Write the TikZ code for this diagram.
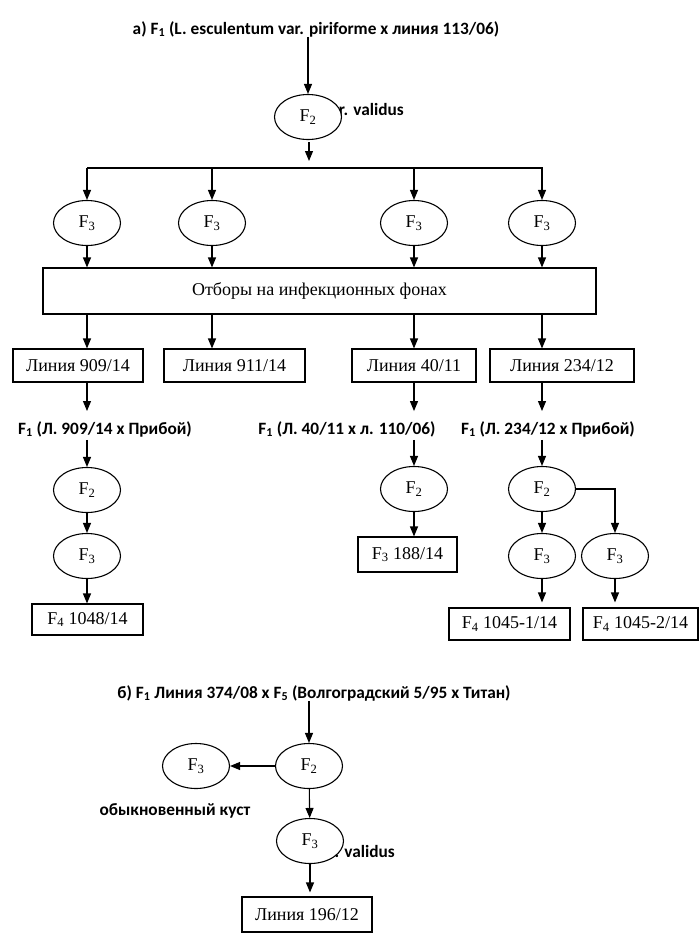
\documentclass[tikz,border=0pt]{standalone}
\usepackage{fontspec}
\setmainfont{Liberation Serif}
\newfontfamily\calib{Carlito}
\usetikzlibrary{arrows.meta,shapes.geometric}
\begin{document}
\begin{tikzpicture}[x=1pt,y=-1pt,
  every node/.style={inner sep=0pt},
  ell/.style={ellipse,draw,line width=1.1pt,fill=white,minimum width=67pt,minimum height=45pt,font=\fontsize{18}{21}\selectfont},
  box/.style={rectangle,draw,line width=1.1pt,fill=white,minimum height=33pt,font=\fontsize{18}{21}\selectfont},
  lab/.style={font=\calib\bfseries\fontsize{17.3}{20}\selectfont},
  arr/.style={line width=1.1pt,-{Triangle[length=10pt,width=8pt]}},
  ln/.style={line width=1.1pt}]
\useasboundingbox (0,0) rectangle (700,934);
% part a
\node[lab] (hA) at (316,29) {а) F\textsubscript{1} (L. esculentum var. piriforme x линия 113/06)};
\node[lab,anchor=east] (valA) at (404,109) {r. validus};
\node[ell] (f2a) at (308,117) {F\textsubscript{2}};
\draw[arr] (hA.south -| f2a) -- (f2a.north);
\coordinate (a1) at (309,142);
\coordinate (a2) at (309,161);
\draw[arr] (a1) -- (a2);
\coordinate (bl) at (87,168);
\coordinate (br) at (543,168);
\draw[ln] (bl) -- (br);
\node[ell] (f3a) at (87,223) {F\textsubscript{3}};
\node[ell] (f3b) at (212,223) {F\textsubscript{3}};
\node[ell] (f3c) at (414,223) {F\textsubscript{3}};
\node[ell] (f3d) at (542,223) {F\textsubscript{3}};
\foreach \n in {f3a,f3b,f3c,f3d}{\draw[arr] (bl -| \n) -- (\n.north);}
\node[box,minimum width=553pt,minimum height=46pt] (sel) at (319.5,291) {Отборы на инфекционных фонах};
\foreach \n in {f3a,f3b,f3c,f3d}{\draw[arr] (\n) -- (sel.north -| \n);}
\node[box,minimum width=130pt] (l909) at (78,365.5) {Линия 909/14};
\node[box,minimum width=141pt] (l911) at (234.5,365.5) {Линия 911/14};
\node[box,minimum width=124pt] (l40) at (414,365.5) {Линия 40/11};
\node[box,minimum width=144pt] (l234) at (562,365.5) {Линия 234/12};
\draw[arr] (sel.south -| f3a) -- (l909.north -| f3a);
\draw[arr] (sel.south -| f3b) -- (l911.north -| f3b);
\draw[arr] (sel.south -| f3c) -- (l40.north -| f3c);
\draw[arr] (sel.south -| f3d) -- (l234.north -| f3d);
\node[lab] (c909) at (105,429) {F\textsubscript{1} (Л. 909/14 x Прибой)};
\node[lab] (c40) at (347,429) {F\textsubscript{1} (Л. 40/11 x л. 110/06)};
\node[lab] (c234) at (548,429) {F\textsubscript{1} (Л. 234/12 x Прибой)};
\node[ell] (f2b) at (87,490) {F\textsubscript{2}};
\node[ell] (f2c) at (414,489) {F\textsubscript{2}};
\node[ell] (f2d) at (542,489) {F\textsubscript{2}};
\draw[arr,shorten >=10pt] (l909.south -| f2b) -- (c909.north -| f2b);
\draw[arr,shorten >=10pt] (l40.south -| f2c) -- (c40.north -| f2c);
\draw[arr,shorten >=10pt] (l234.south -| f2d) -- (c234.north -| f2d);
\draw[arr,shorten <=3pt] (c909.south -| f2b) -- (f2b);
\draw[arr,shorten <=3pt] (c40.south -| f2c) -- (f2c);
\draw[arr,shorten <=3pt] (c234.south -| f2d) -- (f2d);
\node[ell] (f3e) at (87,556) {F\textsubscript{3}};
\node[ell] (f3f) at (542,556) {F\textsubscript{3}};
\node[ell] (f3g) at (615,556) {F\textsubscript{3}};
\node[box,minimum width=111pt,minimum height=31pt] (b1048) at (87.5,619.5) {F\textsubscript{4} 1048/14};
\node[box,minimum width=99pt,minimum height=35pt] (b188) at (407.5,554.5) {F\textsubscript{3} 188/14};
\node[box,minimum width=121pt,minimum height=32pt] (b1045a) at (509.5,624) {F\textsubscript{4} 1045-1/14};
\node[box,minimum width=115pt,minimum height=32pt] (b1045b) at (640.5,624) {F\textsubscript{4} 1045-2/14};
\draw[arr] (f2b) -- (f3e);
\draw[arr] (f3e) -- (b1048.north -| f3e);
\draw[arr] (f2c) -- (b188.north -| f2c);
\draw[arr] (f2d) -- (f3f);
\draw[arr] (f2d.east) -| (f3g.north);
\draw[arr,shorten >=5pt] (f3f) -- (b1045a.north -| f3f);
\draw[arr,shorten >=5pt] (f3g) -- (b1045b.north -| f3g);
% part b
\node[lab] (hB) at (314,693) {б) F\textsubscript{1} Линия 374/08 x F\textsubscript{5} (Волгоградский 5/95 x Титан)};
\node[ell] (f2e) at (309,766) {F\textsubscript{2}};
\node[ell] (f3h) at (196,766) {F\textsubscript{3}};
\node[lab] (kust) at (175,811) {обыкновенный куст};
\node[lab,anchor=east] (valB) at (395,851) {. validus};
\node[ell] (f3i) at (310,841) {F\textsubscript{3}};
\node[box,minimum width=130pt,minimum height=35pt] (b196) at (307,914.5) {Линия 196/12};
\draw[arr] (hB.south -| f2e) -- (f2e.north);
\draw[arr] (f2e) -- (f3h);
\draw[arr] (f2e) -- (f3i);
\draw[arr,shorten >=4pt] (f3i) -- (b196.north -| f3i);
\end{tikzpicture}
\end{document}
